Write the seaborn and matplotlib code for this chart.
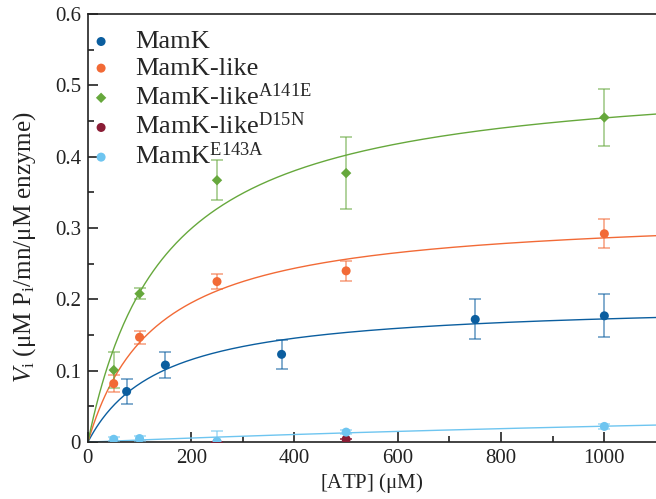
import numpy as np
import matplotlib
matplotlib.use("Agg")
import matplotlib.pyplot as plt
import seaborn as sns
import pandas as pd

# Datos medidos (ATP en uM, Vi en uM Pi/mn/uM enzima)
atp_mamk = [75, 150, 375, 750, 1000]
vi_mamk = [0.071, 0.108, 0.123, 0.172, 0.177]
err_mamk = [0.017, 0.018, 0.020, 0.028, 0.030]

atp_like = [50, 100, 250, 500, 1000]
vi_like = [0.082, 0.147, 0.225, 0.240, 0.292]
err_like = [0.012, 0.009, 0.010, 0.014, 0.020]

atp_a141e = [50, 100, 250, 500, 1000]
vi_a141e = [0.101, 0.208, 0.367, 0.377, 0.455]
err_a141e = [0.025, 0.008, 0.028, 0.051, 0.040]

atp_d15n = [250, 500]
vi_d15n = [0.000, 0.004]
err_d15n = [0.000, 0.000]

atp_e143a = [50, 100, 250, 500, 1000]
vi_e143a = [0.004, 0.005, 0.001, 0.014, 0.022]
err_e143a = [0.003, 0.004, 0.014, 0.003, 0.004]

# Parametros de Michaelis-Menten (Vmax, Km)
vmax_fit = {"MamK": 0.197, "MamK-like": 0.324, "A141E": 0.522, "E143A": 0.081}
km_fit = {"MamK": 141, "MamK-like": 132, "A141E": 149, "E143A": 2630}

series = [
    ("MamK", r"MamK", atp_mamk, vi_mamk, err_mamk, "#0b5e9f", "o"),
    ("MamK-like", r"MamK-like", atp_like, vi_like, err_like, "#f26a36", "o"),
    ("A141E", r"MamK-like$^{\mathrm{A141E}}$", atp_a141e, vi_a141e, err_a141e, "#66a83c", "D"),
    ("D15N", r"MamK-like$^{\mathrm{D15N}}$", atp_d15n, vi_d15n, err_d15n, "#8a1c35", "o"),
    ("E143A", r"MamK$^{\mathrm{E143A}}$", atp_e143a, vi_e143a, err_e143a, "#6ec5f0", "o"),
]

sns.set_style("white")
plt.rcParams['font.family'] = ['Liberation Serif', 'DejaVu Serif']
plt.rcParams['mathtext.fontset'] = 'custom'
plt.rcParams['mathtext.rm'] = 'Liberation Serif'
plt.rcParams['mathtext.it'] = 'Liberation Serif:italic'

fig = plt.figure(figsize=(6.56, 4.99), dpi=100)
ax = fig.add_axes([0.134, 0.114, 0.866, 0.858])

x_fit = np.linspace(0, 1100, 400)
for key, label, x, y, e, color, marker in series:
    if key in vmax_fit:
        y_fit = vmax_fit[key] * x_fit / (km_fit[key] + x_fit)
        sns.lineplot(x=x_fit, y=y_fit, color=color, lw=1.0, ax=ax, zorder=2)
    ax.errorbar(x, y, yerr=e, fmt="none", ecolor=color, alpha=0.55,
                elinewidth=1.3, capsize=4.5, capthick=1.3, zorder=3)
    df = pd.DataFrame({"atp": x, "vi": y})
    ms = 28 if marker == "D" else 42
    sns.scatterplot(data=df, x="atp", y="vi", color=color, marker=marker,
                    s=ms, edgecolor="none", ax=ax, zorder=4, label=label)

ax.set_xlim(0, 1100)
ax.set_ylim(0, 0.6)
ax.set_xticks([0, 200, 400, 600, 800, 1000])
ax.set_xticks([100, 300, 500, 700, 900], minor=True)
ax.set_yticks([0, 0.1, 0.2, 0.3, 0.4, 0.5, 0.6])
ax.set_yticklabels(["0", "0.1", "0.2", "0.3", "0.4", "0.5", "0.6"])
ax.set_yticks(np.arange(0.05, 0.6, 0.1), minor=True)
ax.tick_params(axis="both", which="major", direction="in", length=7, width=1.2,
               labelsize=15, color="#222222", pad=5, labelcolor="#222222")
ax.tick_params(axis="both", which="minor", direction="in", length=4, width=1.2,
               color="#222222")
ax.tick_params(axis="x", which="both", bottom=True)
ax.tick_params(axis="y", which="both", left=True)

ax.spines["right"].set_visible(False)
for side in ["left", "bottom", "top"]:
    ax.spines[side].set_linewidth(1.2)
    ax.spines[side].set_color("#222222")

ax.set_xlabel(r"[ATP] ($\mathrm{\mu}$M)", fontsize=15, labelpad=2, color="#222222")
ax.set_ylabel(r"$V_{\mathrm{i}}$ ($\mathrm{\mu}$M P$_{\mathrm{i}}$/mn/$\mathrm{\mu}$M enzyme)",
              fontsize=18, color="#222222")
ax.yaxis.set_label_coords(-0.087, 0.455)

leg = ax.legend(loc="upper left", frameon=False, fontsize=19, handletextpad=1.0,
                borderaxespad=0.0, borderpad=0.2, labelspacing=0.12,
                handlelength=0.6, bbox_to_anchor=(0.0, 0.975))

fig.savefig("out.png", dpi=100)
